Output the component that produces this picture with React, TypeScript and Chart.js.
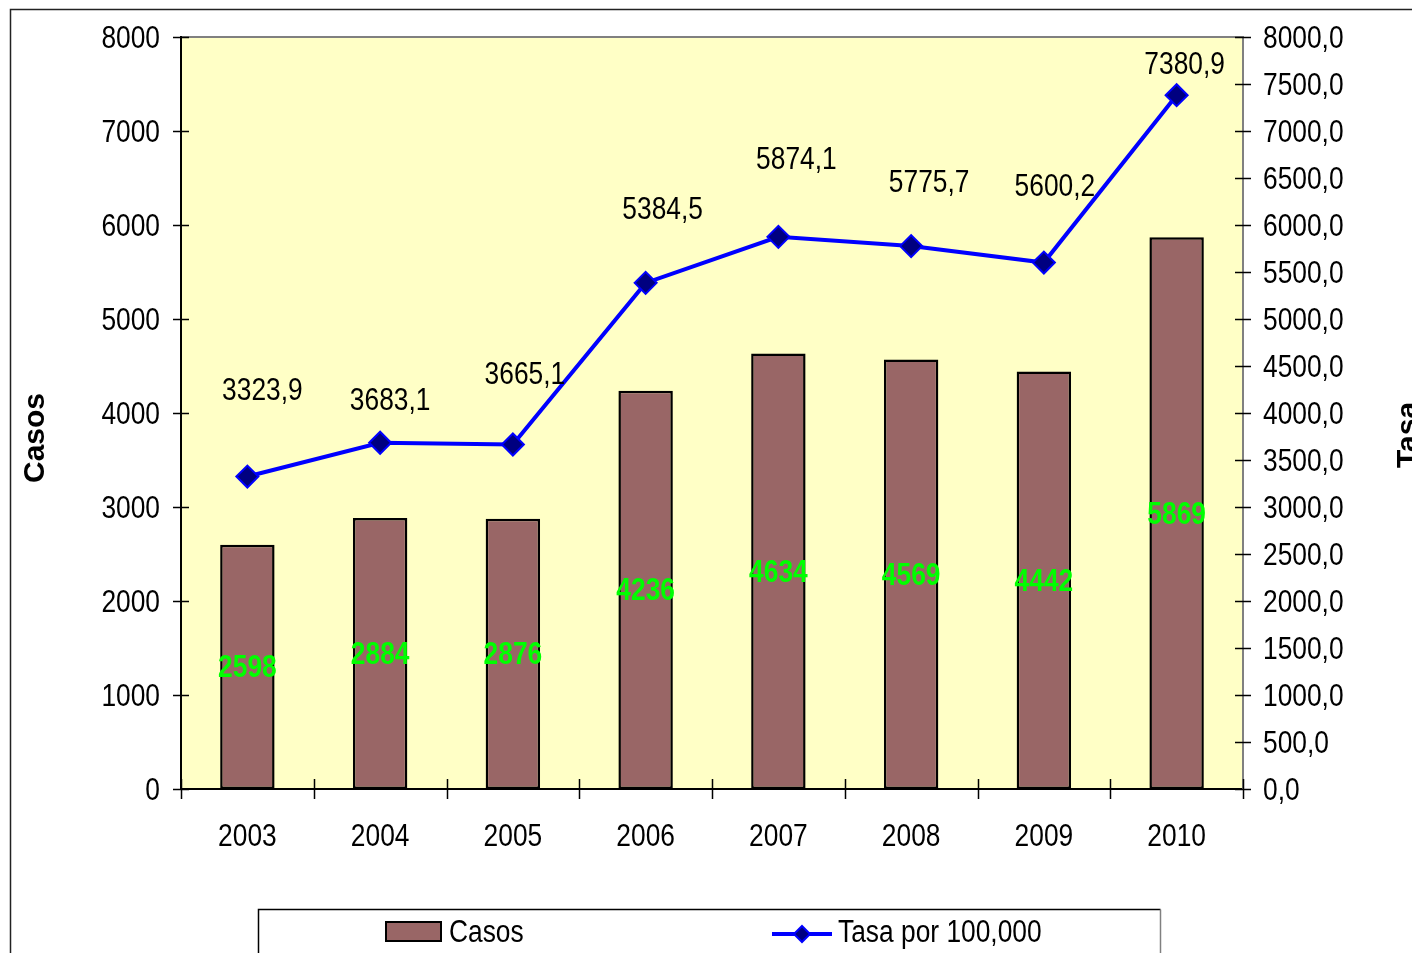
import React, { useEffect, useRef } from 'react';
import { Chart, registerables } from 'chart.js';

Chart.register(...registerables);

const years = ['2003', '2004', '2005', '2006', '2007', '2008', '2009', '2010'];
const casos = [2598, 2884, 2876, 4236, 4634, 4569, 4442, 5869];
const tasa = [3323.9, 3683.1, 3665.1, 5384.5, 5874.1, 5775.7, 5600.2, 7380.9];
const axisMax = 8000;
const leftStep = 1000;
const rightStep = 500;
// offsets (px) of the rate labels from their point, as placed in the reference
const tasaLabelDx = [15, 10, 12, 17, 18, 18, 11, 8];
const tasaLabelDy = [-87, -43, -71, -74, -78, -65, -77, -32];

const SANS = '"Liberation Sans", Arial, sans-serif';
const NARROW_X = 0.85; // horizontal squeeze imitating Arial Narrow
const FS = 31;
const PLOT_BG = '#FFFFC6';
const BAR = '#996666';
const LINE = '#0000FF';
const MARK = '#000080';

const fmtComma = (v: number) => v.toFixed(1).replace('.', ',');

function narrowText(ctx: any, text: string, x: number, y: number, align: string, font: string, color: string) {
  ctx.save();
  ctx.font = font;
  ctx.fillStyle = color;
  ctx.textAlign = align;
  ctx.textBaseline = 'middle';
  ctx.translate(x, y + 2);
  ctx.scale(NARROW_X, 1);
  ctx.fillText(text, 0, 0);
  ctx.restore();
}

const decor = {
  id: 'decor',
  beforeDraw(chart: any) {
    const { ctx, chartArea: a } = chart;
    ctx.save();
    ctx.fillStyle = '#ffffff';
    ctx.fillRect(0, 0, chart.width, chart.height);
    ctx.strokeStyle = '#222';
    ctx.lineWidth = 1.5;
    ctx.strokeRect(10.5, 9.5, chart.width + 200, chart.height + 200);
    ctx.fillStyle = PLOT_BG;
    ctx.fillRect(a.left, a.top, a.right - a.left, a.bottom - a.top);
    ctx.strokeStyle = '#808080';
    ctx.lineWidth = 2;
    ctx.strokeRect(a.left, a.top, a.right - a.left, a.bottom - a.top);
    ctx.restore();
  },
  afterDatasetsDraw(chart: any) {
    const { ctx } = chart;
    const barMeta = chart.getDatasetMeta(0);
    barMeta.data.forEach((el: any, i: number) => {
      narrowText(ctx, String(casos[i]), el.x, (el.y + el.base) / 2, 'center', `bold ${FS}px ${SANS}`, '#00FF00');
    });
    const lineMeta = chart.getDatasetMeta(1);
    lineMeta.data.forEach((el: any, i: number) => {
      narrowText(ctx, fmtComma(tasa[i]), el.x + tasaLabelDx[i], el.y + tasaLabelDy[i], 'center', `${FS}px ${SANS}`, '#000');
    });
  },
  afterDraw(chart: any) {
    const { ctx, chartArea: a } = chart;
    const ys = chart.scales.y;
    const y1 = chart.scales.y1;
    const xs = chart.scales.x;
    const tickFont = `${FS}px ${SANS}`;
    ctx.save();
    ctx.lineWidth = 1.5;
    ctx.strokeStyle = '#000';
    ctx.beginPath();
    ys.ticks.forEach((_t: any, i: number) => {
      const p = Math.round(ys.getPixelForTick(i)) + 0.5;
      ctx.moveTo(a.left - 8, p);
      ctx.lineTo(a.left + 8, p);
    });
    y1.ticks.forEach((_t: any, i: number) => {
      const p = Math.round(y1.getPixelForTick(i)) + 0.5;
      ctx.moveTo(a.right - 8, p);
      ctx.lineTo(a.right + 8, p);
    });
    const n = years.length;
    for (let i = 0; i <= n; i++) {
      let px;
      if (i === 0) px = a.left;
      else if (i === n) px = a.right;
      else px = (xs.getPixelForValue(i - 1) + xs.getPixelForValue(i)) / 2;
      px = Math.round(px) + 0.5;
      ctx.moveTo(px, a.bottom - 10);
      ctx.lineTo(px, a.bottom + 10);
    }
    ctx.stroke();

    // tick labels
    ys.ticks.forEach((t: any, i: number) => {
      narrowText(ctx, String(t.value), a.left - 21, ys.getPixelForTick(i), 'right', tickFont, '#000');
    });
    y1.ticks.forEach((t: any, i: number) => {
      narrowText(ctx, fmtComma(t.value), a.right + 20, y1.getPixelForTick(i), 'left', tickFont, '#000');
    });
    years.forEach((lab, i) => {
      narrowText(ctx, lab, xs.getPixelForValue(i), a.bottom + 46, 'center', tickFont, '#000');
    });

    // axis titles
    const cy = (a.top + a.bottom) / 2 + 25;
    ctx.font = `bold 30px ${SANS}`;
    ctx.fillStyle = '#000';
    ctx.textAlign = 'center';
    ctx.textBaseline = 'middle';
    ctx.save();
    ctx.translate(a.left - 145, cy);
    ctx.rotate(-Math.PI / 2);
    ctx.fillText('Casos', 0, 0);
    ctx.restore();
    ctx.save();
    ctx.translate(a.right + 166, cy - 3);
    ctx.rotate(-Math.PI / 2);
    ctx.fillText('Tasa', 0, 0);
    ctx.restore();

    // legend
    const d0 = chart.data.datasets[0];
    const d1 = chart.data.datasets[1];
    const bl = a.left + 77;
    const br = a.right - 83;
    const bt = a.bottom + 120;
    ctx.lineWidth = 1.5;
    ctx.strokeStyle = '#000';
    ctx.beginPath();
    ctx.moveTo(bl + 0.5, chart.height + 10);
    ctx.lineTo(bl + 0.5, bt + 0.5);
    ctx.lineTo(br + 0.5, bt + 0.5);
    ctx.stroke();
    ctx.strokeStyle = '#808080';
    ctx.beginPath();
    ctx.moveTo(br + 0.5, bt + 0.5);
    ctx.lineTo(br + 0.5, chart.height + 10);
    ctx.stroke();

    const ly = bt + 22;
    const sx = bl + 128;
    ctx.fillStyle = d0.backgroundColor;
    ctx.fillRect(sx, ly - 9, 55, 19);
    ctx.strokeStyle = '#000';
    ctx.lineWidth = 2;
    ctx.strokeRect(sx, ly - 9, 55, 19);
    narrowText(ctx, d0.label, sx + 63, ly, 'left', tickFont, '#000');

    const tx = bl + 514;
    const tyy = ly + 3;
    ctx.strokeStyle = d1.borderColor;
    ctx.lineWidth = 4;
    ctx.beginPath();
    ctx.moveTo(tx, tyy);
    ctx.lineTo(tx + 60, tyy);
    ctx.stroke();
    const cx = tx + 30;
    const r = 8;
    ctx.beginPath();
    ctx.moveTo(cx, tyy - r);
    ctx.lineTo(cx + r, tyy);
    ctx.lineTo(cx, tyy + r);
    ctx.lineTo(cx - r, tyy);
    ctx.closePath();
    ctx.fillStyle = d1.pointBackgroundColor;
    ctx.fill();
    ctx.lineWidth = 2;
    ctx.strokeStyle = d1.pointBorderColor;
    ctx.stroke();
    narrowText(ctx, d1.label, tx + 66, ly, 'left', tickFont, '#000');
    ctx.restore();
  },
};

export default function App() {
  const ref = useRef<HTMLCanvasElement>(null);
  useEffect(() => {
    if (!ref.current) return;
    const chart = new Chart(ref.current, {
      type: 'bar',
      data: {
        labels: years,
        datasets: [
          {
            type: 'bar',
            label: 'Casos',
            data: casos,
            backgroundColor: BAR,
            borderColor: '#000',
            borderWidth: 2.5,
            borderSkipped: false,
            barPercentage: 0.41,
            categoryPercentage: 1,
            yAxisID: 'y',
            order: 2,
          } as any,
          {
            type: 'line',
            label: 'Tasa por 100,000',
            data: tasa,
            borderColor: LINE,
            borderWidth: 4,
            pointStyle: 'rectRot',
            pointRadius: 11,
            pointBackgroundColor: MARK,
            pointBorderColor: LINE,
            pointBorderWidth: 2,
            tension: 0,
            yAxisID: 'y1',
            order: 1,
          } as any,
        ],
      },
      options: {
        animation: false,
        responsive: false,
        maintainAspectRatio: false,
        layout: { padding: { left: 10, right: 0, top: 37, bottom: 0 } },
        plugins: { legend: { display: false }, tooltip: { enabled: false } },
        scales: {
          x: {
            type: 'category',
            offset: true,
            grid: { display: false, drawTicks: false },
            border: { display: true, color: '#000', width: 2 },
            ticks: { display: false },
            afterFit: (s: any) => { s.height = 164; },
          },
          y: {
            type: 'linear',
            position: 'left',
            min: 0,
            max: axisMax,
            grid: { display: false, drawTicks: false },
            border: { display: true, color: '#000', width: 2 },
            ticks: { display: false, stepSize: leftStep },
            afterFit: (s: any) => { s.width = 171; },
          },
          y1: {
            type: 'linear',
            position: 'right',
            min: 0,
            max: axisMax,
            grid: { display: false, drawTicks: false },
            border: { display: true, color: '#808080', width: 2 },
            ticks: { display: false, stepSize: rightStep },
            afterFit: (s: any) => { s.width = 169; },
          },
        },
      },
      plugins: [decor],
    });
    return () => chart.destroy();
  }, []);
  return (
    <div style={{ position: 'absolute', left: 0, top: 0, width: 1412, height: 953 }}>
      <canvas ref={ref} width={1412} height={953} style={{ display: 'block', width: 1412, height: 953 }} />
    </div>
  );
}
